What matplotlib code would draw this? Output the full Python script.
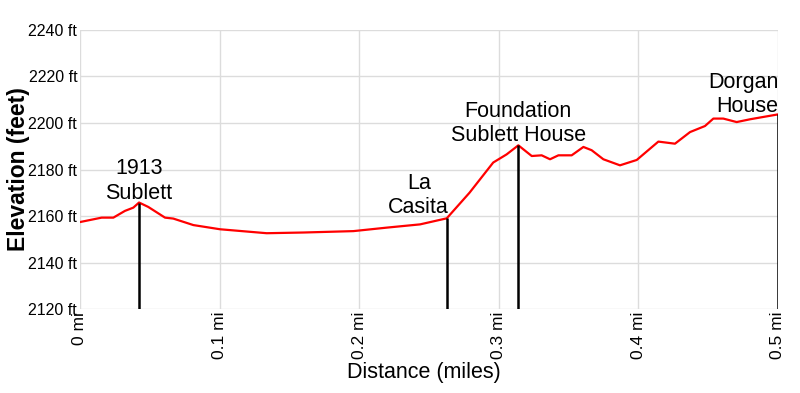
import matplotlib.pyplot as plt
import numpy as np

plt.rcParams['font.family'] = ['Liberation Sans', 'DejaVu Sans']

# elevation profile
dist = [0.0, 0.0155, 0.0239, 0.0322, 0.0382, 0.0423, 0.0489, 0.0609, 0.0668, 0.0812,
        0.1003, 0.1337, 0.16, 0.1958, 0.2197, 0.2436, 0.2627, 0.279, 0.296, 0.3056,
        0.314, 0.3236, 0.3307, 0.3367, 0.3427, 0.3522, 0.3606, 0.3665, 0.3749, 0.3868,
        0.3988, 0.4143, 0.4262, 0.437, 0.4477, 0.4537, 0.4608, 0.4704, 0.48, 0.4895, 0.5]
elev = [2157.4, 2159.3, 2159.3, 2162.2, 2163.6, 2165.8, 2163.9, 2159.3, 2158.9, 2156.1,
        2154.3, 2152.6, 2152.9, 2153.5, 2155.0, 2156.4, 2159.0, 2170.0, 2183.0, 2186.5,
        2190.4, 2185.8, 2186.1, 2184.4, 2186.1, 2186.1, 2189.7, 2188.3, 2184.4, 2181.8,
        2184.1, 2192.0, 2191.1, 2196.1, 2198.7, 2201.9, 2201.9, 2200.4, 2201.6, 2202.6, 2203.7]

marker_names = ['1913\nSublett', 'La\nCasita', 'Foundation\nSublett House', 'Dorgan\nHouse']
marker_dist = [0.0423, 0.2627, 0.314, 0.4997]
marker_elev = [2165.8, 2159.0, 2190.4, 2203.7]

yticks = [2120, 2140, 2160, 2180, 2200, 2220, 2240]
xticks = [0, 0.1, 0.2, 0.3, 0.4, 0.5]

fig = plt.figure(figsize=(8, 3.93), dpi=100)
ax = fig.add_axes([0.1, 0.2137, 0.8725, 0.71])

ax.plot(dist, elev, color='#ff0000', lw=1.6, zorder=3)

# label placement (pixel offsets, alignment)
offsets = [(0, -1), (-28, 0), (0, -1), (1, -3)]
aligns = ['center', 'center', 'center', 'right']
for name, d, e, off, ha in zip(marker_names, marker_dist, marker_elev, offsets, aligns):
    ax.vlines(d, 2120, e, color='black', lw=1.8, zorder=4)
    ax.annotate(name, (d, e), xytext=off, textcoords='offset pixels',
                ha=ha, va='bottom', multialignment=ha, fontsize=15.5,
                linespacing=1.2, annotation_clip=False)

ax.set_xlim(0, 0.5)
ax.set_ylim(2120, 2240)
ax.set_yticks(yticks)
ax.set_yticklabels([f'{v} ft' for v in yticks], fontsize=11.5)
ax.set_xticks(xticks)
ax.set_xticklabels([f'{v:g} mi' for v in xticks], rotation=90, fontsize=12.5)
ax.tick_params(length=0, pad=2)
ax.grid(color='#dcdcdc', lw=1)
ax.set_axisbelow(True)
for s in ax.spines.values():
    s.set_visible(False)

ax.set_ylabel('Elevation (feet)', fontsize=16.5, fontweight='bold')
ax.yaxis.set_label_coords(-0.071, 0.5)
ax.set_xlabel('Distance (miles)', fontsize=15.5, labelpad=3)
ax.xaxis.set_label_coords(0.493, -0.19)

fig.savefig('out.png', dpi=100)
